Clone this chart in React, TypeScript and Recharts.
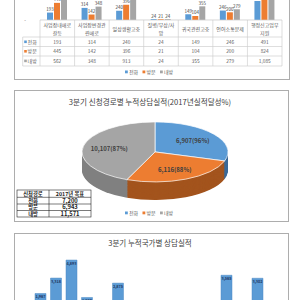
import React from 'react'
import { BarChart, Bar, XAxis, YAxis, CartesianGrid, LabelList, PieChart, Pie, Cell } from 'recharts'

// 상담유형별 (top, cropped)
const issueLines = [
  ['사업장내애로', '갈등'],
  ['사업장변경관', '련애로'],
  ['일상생활고충'],
  ['질병/부상/사', '망'],
  ['귀국관련고충'],
  ['언어소통문제'],
  ['행정신고업무', '지원'],
]
const seriesNames = ['전화', '방문', '내방']
const phoneCounts = [193, 314, 240, 24, 149, 246, 491]
const visitCounts = [445, 142, 396, 21, 104, 200, 824]
const outreachCounts = [562, 348, 913, 24, 355, 279, 1085]
const issueTicks = [0, 200, 400, 600, 800, 1000, 1200]

// 신청경로별
const routeTotals = [6907, 6116, 10107]
const routeTargets = [7200, 6943, 11571]

// 국가별 (bottom, cropped)
const countryNames = ['베트남', '필리핀', '태국', '몽골', '인도네시아', '스리랑카', '중국', '우즈베키스탄', '파키스탄', '캄보디아', '네팔', '미얀마', '키르기스스탄', '방글라데시', '동티모르', '기타']
const countryCounts = [1967, 3318, 4893, 1620, 1050, 2875, 900, 650, 1000, 480, 820, 1020, 3565, 980, 3302, 700]

const colors = ['#5B9BD5', '#ED7D31', '#A5A5A5']
const sideColors = ['#3C6A98', '#A3541D', '#808080']
const textGray = '#595959'
const boxBorder = '#ADADAD'
const PIE_K = 0.411

const fmt = (v: number) => v.toLocaleString('en-US')

const issueData = issueLines.map((lines, i) => ({
  key: lines.join(''),
  phone: phoneCounts[i],
  visit: visitCounts[i],
  outreach: outreachCounts[i],
}))
const seriesRows = [phoneCounts, visitCounts, outreachCounts]

const routeData = seriesNames.map((name, i) => ({ name, value: routeTotals[i] }))
const countryData = countryNames.map((name, i) => ({ name, value: countryCounts[i] }))

const BAND = 242 / 7

function YTick({ x, y, payload }: any) {
  return (
    <text x={x} y={y} dy={1.8} textAnchor="end" fontSize={5} fill={textGray}>
      {payload.value === 0 ? '-' : fmt(payload.value)}
    </text>
  )
}

function TableTick(props: any) {
  const { x, y, payload } = props
  const index = payload.index ?? props.index
  const left = x - BAND / 2
  const right = x + BAND / 2
  const lines = issueLines[index]
  const rowLines = [17, 26.5, 36, 46]
  const rowMid = [21.8, 31.3, 40.9]
  const stroke = '#C8C8C8'
  return (
    <g>
      <line x1={left} y1={y} x2={left} y2={y + 46} stroke={stroke} strokeWidth={0.6} />
      {index === issueLines.length - 1 && (
        <line x1={right} y1={y} x2={right} y2={y + 46} stroke={stroke} strokeWidth={0.6} />
      )}
      {rowLines.map((o) => (
        <line key={o} x1={left} y1={y + o} x2={right} y2={y + o} stroke={stroke} strokeWidth={0.6} />
      ))}
      {lines.map((t, j) => (
        <text
          key={j}
          x={x}
          y={y + (lines.length === 1 ? 9 : 5 + j * 8)}
          dy={1.8}
          textAnchor="middle"
          fontSize={5}
          fill={textGray}
        >
          {t}
        </text>
      ))}
      {seriesRows.map((row, r) => (
        <text key={r} x={x} y={y + rowMid[r]} dy={1.8} textAnchor="middle" fontSize={4.8} fill={textGray}>
          {fmt(row[index])}
        </text>
      ))}
      {index === 0 && (
        <g>
          <line x1={22.7} y1={y + 17} x2={22.7} y2={y + 46} stroke={stroke} strokeWidth={0.6} />
          {rowLines.map((o) => (
            <line key={o} x1={22.7} y1={y + o} x2={left} y2={y + o} stroke={stroke} strokeWidth={0.6} />
          ))}
          {seriesNames.map((n, r) => (
            <g key={n}>
              <rect x={24.2} y={y + rowMid[r] - 1.3} width={2.6} height={2.6} fill={colors[r]} />
              <text x={27.6} y={y + rowMid[r]} dy={1.8} fontSize={5} fill={textGray}>
                {n}
              </text>
            </g>
          ))}
        </g>
      )}
    </g>
  )
}

function SeriesLegend({ top, left }: { top: number; left: number }) {
  return (
    <svg style={{ position: 'absolute', left, top }} width={60} height={8}>
      {seriesNames.map((n, i) => (
        <g key={n} transform={`translate(${i * 17.5},0)`}>
          <rect x={0} y={2.5} width={2.8} height={2.8} fill={colors[i]} />
          <text x={4} y={4} dy={1.8} fontSize={5} fill={textGray}>
            {n}
          </text>
        </g>
      ))}
    </svg>
  )
}

const RAD = Math.PI / 180
const renderRouteLabel = (p: any) => {
  const r = p.outerRadius * 0.64
  const x = p.cx + r * Math.cos(-p.midAngle * RAD)
  const y = p.cy + r * Math.sin(-p.midAngle * RAD)
  const pct = Math.round((routeTotals[p.index] / routeTargets[p.index]) * 100)
  return (
    <text
      transform={`translate(${x},${y}) scale(1,${1 / PIE_K})`}
      textAnchor="middle"
      dominantBaseline="central"
      fontSize={6}
      fontWeight="bold"
      fill="#404040"
    >
      {`${fmt(routeTotals[p.index])}(${pct}%)`}
    </text>
  )
}

const sideDepths = Array.from({ length: 22 }, (_, i) => 44 - i * 2)

function TargetTable() {
  const rows = [['신청경로', '2017년 목표'], ...seriesNames.map((n, i) => [n, fmt(routeTargets[i])])]
  const rowY = [190, 197.3, 204, 210.5, 217]
  return (
    <svg style={{ position: 'absolute', left: 0, top: 0 }} width={300} height={300}>
      <rect x={17} y={190} width={74} height={27} fill="#fff" stroke="#222" strokeWidth={0.6} />
      {rowY.slice(1, 4).map((yy) => (
        <line key={yy} x1={17} y1={yy} x2={91} y2={yy} stroke="#222" strokeWidth={0.6} />
      ))}
      <line x1={49} y1={190} x2={49} y2={217} stroke="#222" strokeWidth={0.6} />
      {rows.map((r, i) => (
        <g key={i}>
          <text x={33} y={(rowY[i] + rowY[i + 1]) / 2} dy={1.9} textAnchor="middle" fontSize={5.3} fontWeight="bold" fill="#222">
            {r[0]}
          </text>
          <text x={70} y={(rowY[i] + rowY[i + 1]) / 2} dy={1.9} textAnchor="middle" fontSize={i === 0 ? 5.3 : 5.8} fontWeight="bold" fill="#222">
            {r[1]}
          </text>
        </g>
      ))}
    </svg>
  )
}

export default function App() {
  return (
    <div
      style={{
        position: 'absolute',
        left: 0,
        top: 0,
        width: 300,
        height: 300,
        overflow: 'hidden',
        background: '#fff',
        fontFamily: "'Noto Sans CJK KR', 'Noto Sans', sans-serif",
      }}
    >
      {/* top panel */}
      <div style={{ position: 'absolute', left: 14, top: -10, width: 274, height: 88, border: `1px solid ${boxBorder}` }} />
      <div style={{ position: 'absolute', left: 0, top: -40 }}>
        <BarChart
          width={300}
          height={110}
          data={issueData}
          margin={{ top: 13.8, right: 18, left: 14, bottom: 0 }}
          barSize={6}
          barGap={1}
        >
          <CartesianGrid vertical={false} stroke="#D9D9D9" strokeWidth={0.6} />
          <XAxis
            dataKey="key"
            height={50}
            interval={0}
            tickLine={false}
            tickSize={0}
            tickMargin={0}
            axisLine={{ stroke: '#D9D9D9', strokeWidth: 0.6 }}
            tick={(p: any) => <TableTick {...p} />}
          />
          <YAxis
            width={26}
            domain={[0, 1200]}
            ticks={issueTicks}
            tickLine={false}
            axisLine={false}
            tickSize={0}
            tickMargin={14}
            tick={(p: any) => <YTick {...p} />}
          />
          <Bar dataKey="phone" fill={colors[0]} isAnimationActive={false}>
            <LabelList dataKey="phone" position="top" offset={1.5} fontSize={4.5} fill="#404040" formatter={(v: any) => fmt(v)} />
          </Bar>
          <Bar dataKey="visit" fill={colors[1]} isAnimationActive={false}>
            <LabelList dataKey="visit" position="top" offset={1.5} fontSize={4.5} fill="#404040" formatter={(v: any) => fmt(v)} />
          </Bar>
          <Bar dataKey="outreach" fill={colors[2]} isAnimationActive={false}>
            <LabelList dataKey="outreach" position="top" offset={1.5} fontSize={4.5} fill="#404040" formatter={(v: any) => fmt(v)} />
          </Bar>
        </BarChart>
      </div>
      <SeriesLegend top={68} left={125} />

      {/* middle panel */}
      <div style={{ position: 'absolute', left: 14, top: 90, width: 273, height: 130, border: `1px solid ${boxBorder}` }} />
      <div
        style={{
          position: 'absolute',
          left: 0,
          top: 97,
          width: 300,
          textAlign: 'center',
          fontSize: 7.6,
          color: '#404040',
          lineHeight: '10px',
        }}
      >
        3분기 신청경로별 누적상담실적(2017년실적달성%)
      </div>
      <div style={{ position: 'absolute', left: 0, top: 117, transform: `scaleY(${PIE_K})`, transformOrigin: 'top left' }}>
        <PieChart width={300} height={250}>
          {sideDepths.map((d) => (
            <Pie
              key={d}
              data={routeData}
              dataKey="value"
              cx={150}
              cy={80 + d}
              outerRadius={73}
              startAngle={90}
              endAngle={-270}
              stroke="none"
              isAnimationActive={false}
            >
              {routeData.map((_, i) => (
                <Cell key={i} fill={sideColors[i]} />
              ))}
            </Pie>
          ))}
          <Pie
            data={routeData}
            dataKey="value"
            cx={150}
            cy={80}
            outerRadius={73}
            startAngle={90}
            endAngle={-270}
            stroke="#ffffff"
            strokeWidth={1}
            labelLine={false}
            label={renderRouteLabel}
            isAnimationActive={false}
          >
            {routeData.map((_, i) => (
              <Cell key={i} fill={colors[i]} />
            ))}
          </Pie>
        </PieChart>
      </div>
      <TargetTable />
      <SeriesLegend top={209} left={125} />

      {/* bottom panel */}
      <div style={{ position: 'absolute', left: 14, top: 233, width: 273, height: 120, border: `1px solid ${boxBorder}` }} />
      <div
        style={{
          position: 'absolute',
          left: 0,
          top: 238,
          width: 300,
          textAlign: 'center',
          fontSize: 7.5,
          color: '#404040',
          lineHeight: '10px',
        }}
      >
        3분기 누적국가별 상담실적
      </div>
      <div style={{ position: 'absolute', left: 0, top: 233 }}>
        <BarChart
          width={300}
          height={100}
          data={countryData}
          margin={{ top: 14.4, right: 19, left: 33, bottom: 17 }}
          barSize={11}
        >
          <XAxis dataKey="name" hide />
          <YAxis hide domain={[0, 6000]} />
          <Bar dataKey="value" fill="#5B9BD5" stroke="#4F8BC4" strokeWidth={0.5} isAnimationActive={false}>
            <LabelList
              dataKey="value"
              position="insideTop"
              offset={2}
              fontSize={3.8}
              fontWeight="bold"
              fill="#1F3864"
              formatter={(v: any) => fmt(v)}
            />
          </Bar>
        </BarChart>
      </div>
    </div>
  )
}
